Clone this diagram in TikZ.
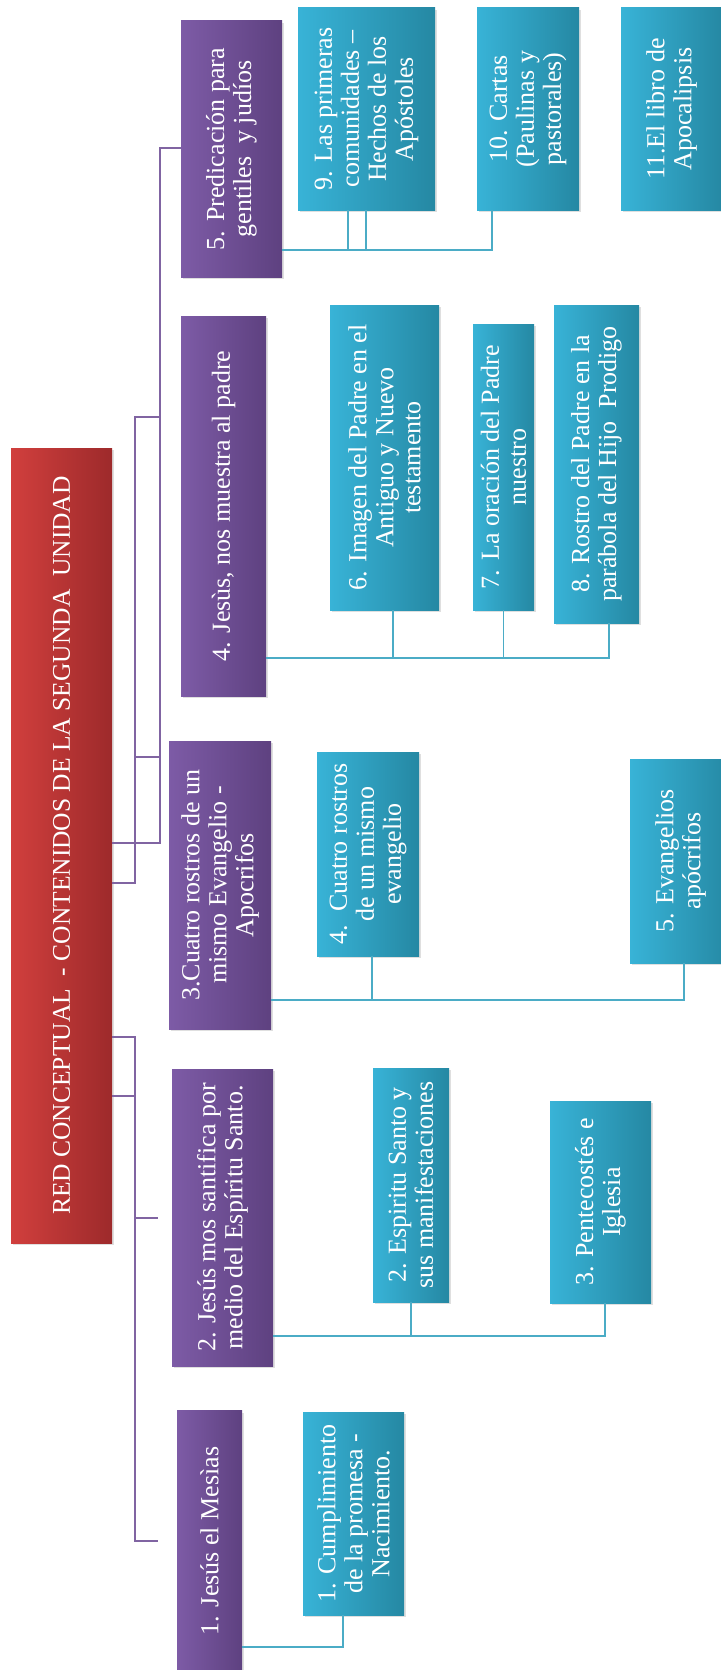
\documentclass[tikz,border=0pt]{standalone}
\usepackage{fontspec}
\setmainfont{Liberation Serif}
\usetikzlibrary{shadows}
\definecolor{redL}{HTML}{D13F3D}
\definecolor{redR}{HTML}{9D2A2B}
\definecolor{purL}{HTML}{7D5BA6}
\definecolor{purR}{HTML}{5E4180}
\definecolor{tealL}{HTML}{38B3D7}
\definecolor{tealR}{HTML}{2588A3}
\definecolor{purLine}{HTML}{8064A2}
\definecolor{tealLine}{HTML}{4BACC6}
\begin{document}
\begin{tikzpicture}[x=1pt, y=-1pt,
    box/.style={rotate=90, inner sep=0pt, align=center, text=white,
      font=\fontsize{26}{27}\selectfont,
      drop shadow={opacity=0.25, shadow xshift=2pt, shadow yshift=-2pt}},
    titlebox/.style={box, left color=redL, right color=redR, font=\fontsize{25.5}{27}\selectfont},
    mainbox/.style={box, left color=purL, right color=purR},
    subbox/.style={box, left color=tealL, right color=tealR},
    purline/.style={draw=purLine, line width=1.6pt},
    tealline/.style={draw=tealLine, line width=1.6pt}]
  \useasboundingbox (0,0) rectangle (720,1670);

  \node[titlebox, minimum width=795pt, minimum height=101pt] (title) at (61.5,845.5)
    {RED CONCEPTUAL\ \ - CONTENIDOS DE LA SEGUNDA\ \ UNIDAD};

  \node[mainbox, minimum width=261pt, minimum height=65pt] (p1) at (209.5,1541) {1. Jesús el Mesìas};
  \node[mainbox, minimum width=297pt, minimum height=101pt] (p2) at (222.5,1217.5) {2. Jesús mos santifica por\\ medio del Espíritu Santo.};
  \node[mainbox, minimum width=288pt, minimum height=102pt] (p3) at (220,885) {3.Cuatro rostros de un\\ mismo Evangelio -\\ Apocrifos};
  \node[mainbox, minimum width=380pt, minimum height=85pt] (p4) at (223.5,506) {4. Jesùs, nos muestra al padre};
  \node[mainbox, minimum width=256pt, minimum height=101pt] (p5) at (231.5,149) {5. Predicación para\\ gentiles\ \ y judíos};

  \node[subbox, minimum width=203pt, minimum height=101pt] (c1) at (353.5,1513.5) {1. Cumplimiento\\ de la promesa -\\ Nacimiento.};
  \node[subbox, minimum width=234pt, minimum height=76pt] (c2) at (411,1185) {2. Espiritu Santo y\\ sus manifestaciones};
  \node[subbox, minimum width=202pt, minimum height=101pt] (c3) at (600.5,1202) {3. Pentecostés e\\ Iglesia};
  \node[subbox, minimum width=204pt, minimum height=102pt] (c4) at (368,854) {4.\ \ Cuatro rostros\\ de un mismo\\ evangelio};
  \node[subbox, minimum width=204pt, minimum height=101pt] (c5) at (680.5,861) {5. Evangelios\\ apócrifos};
  \node[subbox, minimum width=305pt, minimum height=109pt] (c6) at (384.5,457.5) {6. Imagen del Padre en el\\ Antiguo y Nuevo\\ testamento};
  \node[subbox, minimum width=286pt, minimum height=61pt] (c7) at (503.5,467) {7. La oración del Padre\\ nuestro};
  \node[subbox, minimum width=318pt, minimum height=85pt] (c8) at (596.5,464) {8. Rostro del Padre en la\\ parábola del Hijo\ \ Prodigo};
  \node[subbox, minimum width=202pt, minimum height=137pt] (c9) at (366.5,109) {9. Las primeras\\ comunidades –\\ Hechos de los\\ Apóstoles};
  \node[subbox, minimum width=202pt, minimum height=102pt] (c10) at (528,109) {10. Cartas\\ (Paulinas y\\ pastorales)};
  \node[subbox, minimum width=202pt, minimum height=101pt] (c11) at (671.5,109) {11.El libro de\\ Apocalipsis};

  % left tree
  \coordinate (e4) at (160,417);
  \coordinate (s3) at (135,757);
  \coordinate (e3) at (160,757);
  \coordinate (e2) at (158,1218);
  \coordinate (e1) at (158,1541);
  \draw[purline] (title.south |- 0,843) -| (160,148) -- (p5.north |- 0,148);
  \draw[purline] (title.south |- 0,883) -| (135,417) -- (e4);
  \draw[purline] (s3) -- (e3);
  \draw[purline] (title.south |- 0,1037) -| (e1 -| 135,0) -- (e1);
  \draw[purline] (title.south |- 0,1096) -- (135,1096);
  \draw[purline] (e2 -| 135,0) -- (e2);

  \draw[tealline] (p5.south |- 0,250) -| (c10.west -| 492,0);
  \draw[tealline] (c9.west -| 348,0) -- (348,250);
  \draw[tealline] (c9.west -| 366,0) -- (366,250);

  \draw[tealline] (p4.south |- 0,658) -| (c8.west -| 609,0);
  \draw[tealline] (c6.west -| 393,0) -- (393,658);
  \draw[tealline] (c7.west) -- (c7.west |- 0,658);

  \draw[tealline] (p3.south |- 0,1000) -| (c5.west -| 684,0);
  \draw[tealline] (c4.west -| 372,0) -- (372,1000);

  \draw[tealline] (p2.south |- 0,1336) -| (c3.west -| 605,0);
  \draw[tealline] (c2.west) -- (c2.west |- 0,1336);

  \draw[tealline] (p1.south |- 0,1647) -| (c1.west -| 343,0);
\end{tikzpicture}
\end{document}
